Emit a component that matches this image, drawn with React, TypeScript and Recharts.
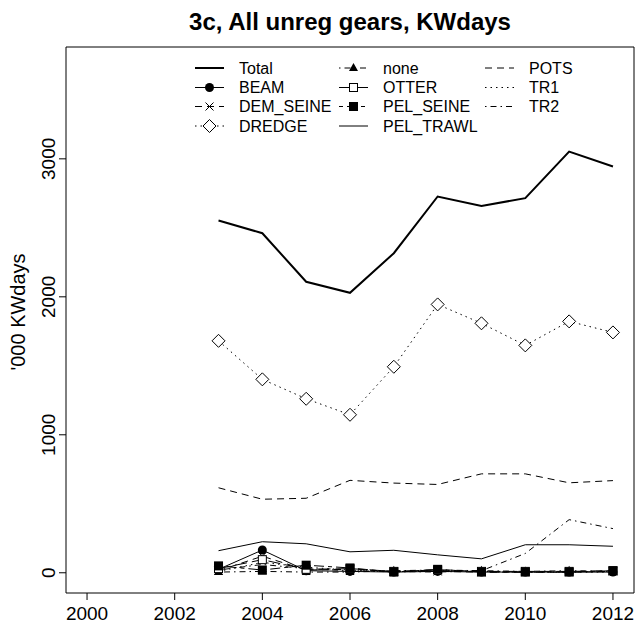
import React from 'react';
import { LineChart, Line, XAxis, YAxis, Legend, ReferenceArea } from 'recharts';

const FONT = '"Liberation Sans", Arial, sans-serif';

const years = [2003, 2004, 2005, 2006, 2007, 2008, 2009, 2010, 2011, 2012];
const xTicks = [2000, 2002, 2004, 2006, 2008, 2010, 2012];
const yTicks = [0, 1000, 2000, 3000];

const total = [2553, 2461, 2109, 2029, 2316, 2727, 2659, 2715, 3053, 2944];
const beam = [25, 165, 15, 10, 5, 10, 5, 5, 5, 5];
const demSeine = [15, 120, 20, 25, 10, 10, 5, 5, 5, 10];
const dredge = [1681, 1402, 1261, 1145, 1493, 1945, 1808, 1648, 1822, 1742];
const noneGear = [5, 10, 5, 5, 15, 20, 15, 10, 15, 10];
const otter = [30, 95, 25, 30, 10, 20, 10, 10, 10, 15];
const pelSeine = [50, 20, 55, 35, 5, 25, 5, 5, 5, 15];
const pelTrawl = [160, 225, 210, 152, 163, 130, 101, 203, 203, 192];
const pots = [616, 533, 540, 670, 650, 640, 717, 717, 652, 668];
const tr1 = [10, 75, 40, 20, 5, 15, 10, 5, 5, 5];
const tr2 = [20, 60, 30, 15, 10, 5, 15, 140, 385, 320];

type Marker = 'none' | 'circle' | 'cross' | 'diamond' | 'triangle' | 'square' | 'filledSquare';

interface SeriesDef {
  key: string;
  values: number[];
  dash?: string;
  marker: Marker;
  width: number;
}

// R line types: solid, dashed, dotted, dotdash, longdash, twodash
const DASHED = '7 5';
const DOTTED = '1.5 4';
const DOTDASH = '1.5 4 6 4';
const LONGDASH = '12 5';
const TWODASH = '4 4 10 4';

const series: SeriesDef[] = [
  { key: 'Total', values: total, marker: 'none', width: 2 },
  { key: 'BEAM', values: beam, marker: 'circle', width: 1 },
  { key: 'DEM_SEINE', values: demSeine, dash: DASHED, marker: 'cross', width: 1 },
  { key: 'DREDGE', values: dredge, dash: DOTTED, marker: 'diamond', width: 1 },
  { key: 'none', values: noneGear, dash: DOTDASH, marker: 'triangle', width: 1 },
  { key: 'OTTER', values: otter, dash: LONGDASH, marker: 'square', width: 1 },
  { key: 'PEL_SEINE', values: pelSeine, dash: TWODASH, marker: 'filledSquare', width: 1 },
  { key: 'PEL_TRAWL', values: pelTrawl, marker: 'none', width: 1 },
  { key: 'POTS', values: pots, dash: DASHED, marker: 'none', width: 1 },
  { key: 'TR1', values: tr1, dash: DOTTED, marker: 'none', width: 1 },
  { key: 'TR2', values: tr2, dash: DOTDASH, marker: 'none', width: 1 },
];

const legendColumns = [
  ['Total', 'BEAM', 'DEM_SEINE', 'DREDGE'],
  ['none', 'OTTER', 'PEL_SEINE', 'PEL_TRAWL'],
  ['POTS', 'TR1', 'TR2'],
];
const legendColX = [195, 339, 485];
const legendRowY = [68, 87.5, 106.5, 126];

const data = years.map((year, i) => {
  const row: Record<string, number> = { year };
  series.forEach((s) => {
    row[s.key] = s.values[i];
  });
  return row;
});

const drawMarker = (type: Marker, cx: number, cy: number, key?: string) => {
  switch (type) {
    case 'circle':
      return <circle key={key} cx={cx} cy={cy} r={4.5} fill="#000" />;
    case 'cross':
      return (
        <path
          key={key}
          d={`M${cx - 4},${cy - 4}L${cx + 4},${cy + 4}M${cx - 4},${cy + 4}L${cx + 4},${cy - 4}`}
          stroke="#000"
          strokeWidth={1}
        />
      );
    case 'diamond':
      return (
        <path
          key={key}
          d={`M${cx},${cy - 6.5}L${cx + 6.5},${cy}L${cx},${cy + 6.5}L${cx - 6.5},${cy}Z`}
          fill="#fff"
          stroke="#000"
          strokeWidth={1}
        />
      );
    case 'triangle':
      return <path key={key} d={`M${cx},${cy - 5}L${cx + 4.5},${cy + 3}L${cx - 4.5},${cy + 3}Z`} fill="#000" />;
    case 'square':
      return <rect key={key} x={cx - 4} y={cy - 4} width={8} height={8} fill="#fff" stroke="#000" strokeWidth={1} />;
    case 'filledSquare':
      return <rect key={key} x={cx - 4.5} y={cy - 4.5} width={9} height={9} fill="#000" />;
    default:
      return <g key={key} />;
  }
};

const XTick = (props: any) => {
  const { x, payload } = props;
  return (
    <text x={x} y={620} textAnchor="middle" fontSize={19} fontFamily={FONT} fill="#000">
      {payload.value}
    </text>
  );
};

const YTick = (props: any) => {
  const { y, payload } = props;
  return (
    <text
      x={55}
      y={y}
      transform={`rotate(-90, 55, ${y})`}
      textAnchor="middle"
      fontSize={19}
      fontFamily={FONT}
      fill="#000"
    >
      {payload.value}
    </text>
  );
};

const renderLegend = () => (
  <svg width={635} height={140} style={{ display: 'block' }}>
    {legendColumns.map((col, c) =>
      col.map((k, r) => {
        const s = series.find((d) => d.key === k)!;
        const x0 = legendColX[c];
        const y = legendRowY[r];
        return (
          <g key={k}>
            <line x1={x0} x2={x0 + 29} y1={y} y2={y} stroke="#000" strokeWidth={s.width} strokeDasharray={s.dash} />
            {drawMarker(s.marker, x0 + 14.5, y)}
            <text x={x0 + 44} y={y} dy="0.36em" fontSize={16} fontFamily={FONT} fill="#000">
              {k}
            </text>
          </g>
        );
      })
    )}
  </svg>
);

export default function App() {
  return (
    <div style={{ position: 'absolute', left: 0, top: 0, width: 635, height: 625, background: '#fff' }}>
      <LineChart width={635} height={625} data={data} margin={{ top: 47, right: 1, bottom: 2, left: 16 }}>
        <XAxis
          dataKey="year"
          type="number"
          domain={[1999.52, 2012.48]}
          ticks={xTicks}
          allowDataOverflow
          height={30}
          axisLine={false}
          tickSize={7}
          tickLine={{ stroke: '#000' }}
          tick={<XTick />}
        />
        <YAxis
          type="number"
          domain={[-146.6, 3810.6]}
          ticks={yTicks}
          allowDataOverflow
          width={50}
          axisLine={false}
          tickSize={7}
          tickLine={{ stroke: '#000' }}
          tick={<YTick />}
          label={{
            content: () => (
              <text
                x={25}
                y={312}
                transform="rotate(-90, 25, 312)"
                textAnchor="middle"
                fontSize={20}
                fontFamily={FONT}
                fill="#000"
              >
                {"'000 KWdays"}
              </text>
            ),
          }}
        />
        <ReferenceArea
          x1={1999.52}
          x2={2012.48}
          y1={-146.6}
          y2={3810.6}
          fill="none"
          fillOpacity={0}
          stroke="#000"
          strokeWidth={1}
          ifOverflow="visible"
        />
        {series.map((s) => (
          <Line
            key={s.key}
            type="linear"
            dataKey={s.key}
            stroke="#000"
            strokeWidth={s.width}
            strokeDasharray={s.dash}
            isAnimationActive={false}
            activeDot={false}
            dot={
              s.marker === 'none'
                ? false
                : (p: any) => drawMarker(s.marker, p.cx, p.cy, `${s.key}-${p.index}`)
            }
          />
        ))}
        <Legend
          content={renderLegend}
          layout="horizontal"
          align="center"
          verticalAlign="middle"
          wrapperStyle={{ left: 0, top: 0, width: 635, height: 140 }}
        />
      </LineChart>
      <svg
        width={635}
        height={45}
        style={{ position: 'absolute', left: 0, top: 0, pointerEvents: 'none' }}
      >
        <text x={350} y={30} textAnchor="middle" fontSize={24} fontWeight="bold" fontFamily={FONT} fill="#000">
          3c, All unreg gears, KWdays
        </text>
      </svg>
    </div>
  );
}
